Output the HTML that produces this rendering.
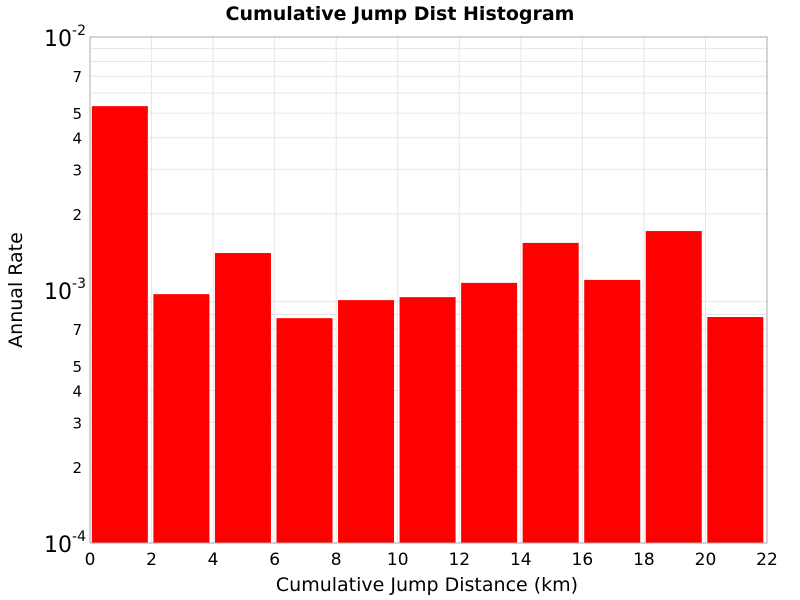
<!DOCTYPE html>
<html><head><meta charset="utf-8"><style>
body{margin:0;background:#fff;}
svg{display:block;font-family:"DejaVu Sans","Liberation Sans",sans-serif;}
</style></head><body>
<svg id="chart" width="800" height="600">
<text x="400" y="20" text-anchor="middle" font-size="19" font-weight="bold">Cumulative Jump Dist Histogram</text>
<g id="grid"></g>
<g id="bars"></g>
<rect x="90" y="37" width="677" height="506" fill="none" stroke="#aaa"/>
<g id="axes"></g>
<text x="427" y="591" text-anchor="middle" font-size="19">Cumulative Jump Distance (km)</text>
<text transform="translate(22,290) rotate(-90)" text-anchor="middle" font-size="19">Annual Rate</text>
</svg>
<script>
const binStarts=[0,2,4,6,8,10,12,14,16,18,20];
const rates=[5.33e-3,9.63e-4,1.40e-3,7.74e-4,9.12e-4,9.37e-4,1.067e-3,1.535e-3,1.096e-3,1.71e-3,7.82e-4];
const xTicks=[0,2,4,6,8,10,12,14,16,18,20,22];
const yMinorLabels=[2,3,4,5,7];
const NS="http://www.w3.org/2000/svg";
const X0=90,X1=767,Y0=543,Y1=37,XMIN=0,XMAX=22,LMIN=-4,LMAX=-2;
const xs=v=>X0+(v-XMIN)/(XMAX-XMIN)*(X1-X0);
const ys=v=>Y0-(Math.log10(v)-LMIN)/(LMAX-LMIN)*(Y0-Y1);
function mk(tag,at,parent){const e=document.createElementNS(NS,tag);for(const k in at)e.setAttribute(k,at[k]);parent.appendChild(e);return e;}
const grid=document.getElementById('grid'),bars=document.getElementById('bars'),axes=document.getElementById('axes');
xTicks.forEach(t=>{
 const l=mk('line',{x1:xs(t),x2:xs(t),y1:Y1,y2:Y0,stroke:'#e6e6e6'},grid);
 
 
 const tx=mk('text',{x:xs(t),y:Y0+22,'text-anchor':'middle','font-size':17},axes);
 tx.textContent=t;
 
 
});
for(let d=LMIN;d<LMAX;d++){
 for(let m=1;m<=9;m++){
  const v=m*Math.pow(10,d);const y=ys(v);
  if(m>1){const l=mk('line',{x1:X0,x2:X1,y1:y,y2:y,stroke:'#e6e6e6'},grid);
   
   }
  if(yMinorLabels.includes(m)){
   const t=mk('text',{x:X0-8,y:y+6,'text-anchor':'end','font-size':15},axes);
   t.textContent=m;
   
   }
 }
}
for(let d=LMIN;d<=LMAX;d++){
 const y=ys(Math.pow(10,d));
 const t=mk('text',{x:X0-4,y:y+9,'text-anchor':'end','font-size':22},axes);
 t.innerHTML='10<tspan dy="-11" font-size="14">'+d+'</tspan>';
 
 
}
binStarts.forEach((s,i)=>{
 const xa=xs(s+0.06),xb=xs(s+1.88),y=ys(rates[i]);
 const r=mk('rect',{x:xa,y:y,width:xb-xa,height:Y0-y,fill:'#ff0000'},bars);
 
 
});
</script>
</body></html>
